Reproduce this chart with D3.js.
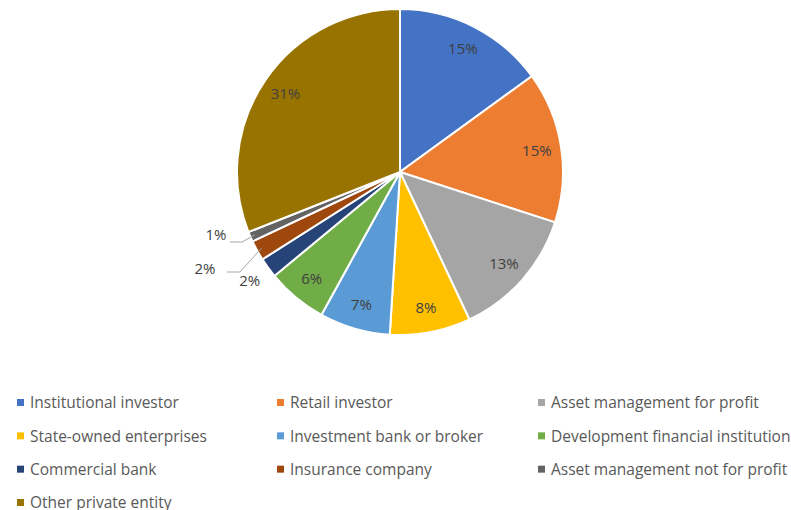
<!DOCTYPE html>
<html>
<head>
<meta charset="utf-8">
<script src="https://cdn.jsdelivr.net/npm/d3@7"></script>
<style>
  body { margin: 0; background: #fff; }
  text { font-family: "Open Sans", "Noto Sans", sans-serif; fill: #404040; }
</style>
</head>
<body>
<svg id="chart" width="791" height="510"></svg>
<script>
// categories and shares (%)
const categories = [
  "Institutional investor", "Retail investor", "Asset management for profit",
  "State-owned enterprises", "Investment bank or broker", "Development financial institution",
  "Commercial bank", "Insurance company", "Asset management not for profit",
  "Other private entity"
];
const shares = [15, 15, 13, 8, 7, 6, 2, 2, 1, 31];
const colors = ["#4472C4", "#ED7D31", "#A5A5A5", "#FFC000", "#5B9BD5", "#70AD47",
                "#264478", "#9E480E", "#636363", "#997300"];

const width = 791, height = 510;
const cx = 400, cy = 172, radius = 163;

const svg = d3.select("#chart");
const data = categories.map((c, i) => ({ category: c, value: shares[i], color: colors[i] }));

const pie = d3.pie().value(d => d.value).sort(null);
const arc = d3.arc().innerRadius(0).outerRadius(radius);
const arcs = pie(data);

const g = svg.append("g").attr("transform", `translate(${cx},${cy})`);

g.selectAll("path")
  .data(arcs)
  .join("path")
  .attr("d", arc)
  .attr("fill", d => d.data.color)
  .attr("stroke", "#fff")
  .attr("stroke-width", 2);

// labels inside for the big slices, outside for the small ones
const inner = d3.arc().innerRadius(radius * 0.85).outerRadius(radius * 0.85);
const outer = d3.arc().innerRadius(radius * 1.14).outerRadius(radius * 1.14);

g.selectAll("text.pct")
  .data(arcs)
  .join("text")
  .attr("class", "pct")
  .attr("transform", (d, i) => {
    let p;
    if (d.data.value >= 5) p = inner.centroid(d);
    else if (i === 6) p = outer.centroid(d);
    else if (i === 7) p = [-195, 97];
    else p = [-184, 63];
    return `translate(${p[0]},${p[1]})`;
  })
  .attr("text-anchor", "middle")
  .attr("dy", "0.35em")
  .style("font-size", "15px")
  .text(d => d.value + "%");

// leader lines for the tiny slices
const leader = d3.line();
[[7, [-173, 100], [-160, 100]], [8, [-170, 70], [-158, 70]]].forEach(([i, a, b]) => {
  const tip = d3.arc().innerRadius(radius * 0.97).outerRadius(radius * 0.97).centroid(arcs[i]);
  g.append("path")
    .attr("d", leader([a, b, tip]))
    .attr("fill", "none")
    .attr("stroke", "#A6A6A6")
    .attr("stroke-width", 1);
});

// legend
const cols = [17, 277, 538];
const rowY = d3.scaleLinear().domain([0, 3]).range([403, 503]);
const legend = svg.append("g");
const items = legend.selectAll("g")
  .data(data)
  .join("g")
  .attr("transform", (d, i) => `translate(${cols[i % 3]},${rowY(Math.floor(i / 3))})`);

items.append("rect")
  .attr("x", 0).attr("y", -4)
  .attr("width", 7).attr("height", 7)
  .attr("fill", d => d.color);

items.append("text")
  .attr("x", 13)
  .attr("dy", "0.35em")
  .style("font-size", "15.5px")
  .style("fill", "#595959")
  .text(d => d.category);
</script>
</body>
</html>
